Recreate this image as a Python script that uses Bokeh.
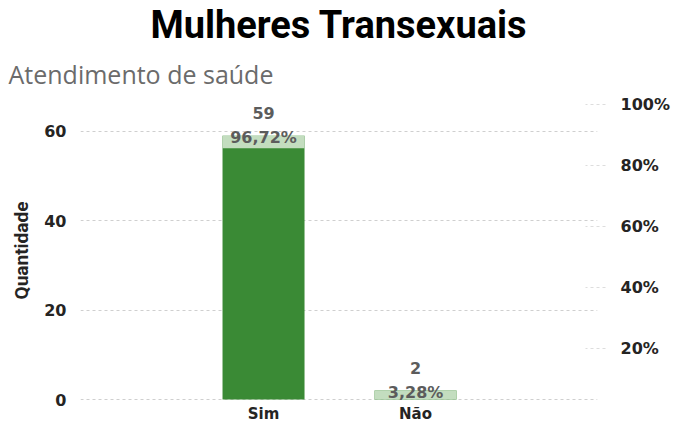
from bokeh.plotting import figure
from bokeh.models import Range1d, LinearAxis, FixedTicker, ColumnDataSource, Title
from bokeh.core.properties import value
from bokeh.embed import file_html
from bokeh.resources import INLINE

# ---- data ----
categories = ["Sim", "Não"]
counts = [59, 2]
left_ticks = [0, 20, 40, 60]
right_ticks = [20, 40, 60, 80, 100]
title_text = "Mulheres Transexuais"
subtitle_text = "Atendimento de saúde"
y_axis_title = "Quantidade"

total = sum(counts)
pct_labels = [f"{c / total * 100:.2f}%".replace(".", ",") for c in counts]

# ---- geometry / style ----
W, H = 673, 425
f_left, f_right, f_top, f_bottom = 80, 597, 98, 402
y_start, y_end = -0.444, 67.11
pct_start, pct_end = 2.764, 101.63
x_start, x_end = -1.204, 2.197
px_per_unit = (f_bottom - f_top) / (y_end - y_start)
band = 12.5 / px_per_unit

DARK = "#3a8a35"
LIGHT = "#c3ddbf"
GRID = "#cfcfcf"
TXT = "#252423"
LBL = "#5c5c5c"

xs = list(range(len(categories)))
src = ColumnDataSource(dict(
    x=xs,
    count=counts,
    count_label=[str(c) for c in counts],
    pct_label=pct_labels,
    band_bottom=[max(0, c - band) for c in counts],
    zero=[0] * len(counts),
))

p = figure(width=W, height=H, output_backend="svg", toolbar_location=None,
           x_range=Range1d(x_start, x_end), y_range=Range1d(y_start, y_end),
           title=None,
           min_border_left=f_left, min_border_right=W - f_right,
           min_border_top=f_top, min_border_bottom=H - f_bottom)
p.outline_line_color = None
p.background_fill_color = "white"
p.border_fill_color = "white"
p.xgrid.visible = False

# x axis (categories)
xa = p.xaxis[0]
xa.ticker = FixedTicker(ticks=xs)
xa.major_label_overrides = {i: c for i, c in zip(xs, categories)}
xa.axis_line_color = None
xa.major_tick_line_color = None
xa.minor_tick_line_color = None
xa.major_tick_out = 0
xa.major_tick_in = 0
xa.major_label_standoff = 3
xa.major_label_text_font = "DejaVu Sans"
xa.major_label_text_font_style = "bold"
xa.major_label_text_font_size = "15px"
xa.major_label_text_color = TXT

# left axis
ya = p.yaxis[0]
ya.ticker = FixedTicker(ticks=left_ticks)
ya.axis_line_color = None
ya.major_tick_line_color = None
ya.minor_tick_line_color = None
ya.major_tick_out = 0
ya.major_tick_in = 0
ya.major_label_standoff = 14
ya.major_label_text_font = "DejaVu Sans"
ya.major_label_text_font_style = "bold"
ya.major_label_text_font_size = "16px"
ya.major_label_text_color = TXT
ya.axis_label = y_axis_title
ya.axis_label_standoff = 8
ya.axis_label_text_font = "Roboto"
ya.axis_label_text_font_style = "bold"
ya.axis_label_text_font_size = "19px"
ya.axis_label_text_color = TXT

p.ygrid.ticker = FixedTicker(ticks=left_ticks)
p.ygrid.grid_line_color = GRID
p.ygrid.grid_line_dash = "3 3"
p.ygrid.grid_line_width = 1

# right axis
p.extra_y_ranges = {"pct": Range1d(pct_start, pct_end)}
ra = LinearAxis(y_range_name="pct", ticker=FixedTicker(ticks=right_ticks))
ra.major_label_overrides = {t: f"{t}%" for t in right_ticks}
ra.axis_line_color = None
ra.minor_tick_line_color = None
ra.major_tick_line_color = "#dddddd"
ra.major_tick_line_dash = "3 3"
ra.major_tick_in = 12
ra.major_tick_out = 8
ra.major_label_standoff = 15
ra.major_label_text_font = "DejaVu Sans"
ra.major_label_text_font_style = "bold"
ra.major_label_text_font_size = "16px"
ra.major_label_text_color = TXT
p.add_layout(ra, "right")

# bars
bar_w = 82 / 152
p.vbar(x="x", top="count", bottom="zero", width=bar_w, source=src,
       fill_color=DARK, line_color=None)
p.vbar(x="x", top="count", bottom="band_bottom", width=bar_w, source=src,
       fill_color=LIGHT, line_color=None)

# data labels
p.text(x="x", y="count", text="count_label", source=src,
       text_align="center", text_baseline="middle", y_offset=-23,
       text_font=value("DejaVu Sans"), text_font_style="bold",
       text_font_size="16px", text_color=LBL)
p.text(x="x", y="count", text="pct_label", source=src,
       text_align="center", text_baseline="middle", y_offset=2,
       text_font=value("DejaVu Sans"), text_font_style="bold",
       text_font_size="16px", text_color=LBL)

# titles (first added = closest to the frame)
p.add_layout(Title(text=subtitle_text, align="left", offset=-72, standoff=17,
                   text_font="Open Sans", text_font_style="normal",
                   text_font_size="25px", text_color="#6b6b6b"), "above")
p.add_layout(Title(text=title_text, align="center", standoff=0,
                   text_font="Roboto", text_font_style="bold",
                   text_font_size="38px", text_color="#000000"), "above")

open("out.html", "w").write(file_html(p, INLINE))
